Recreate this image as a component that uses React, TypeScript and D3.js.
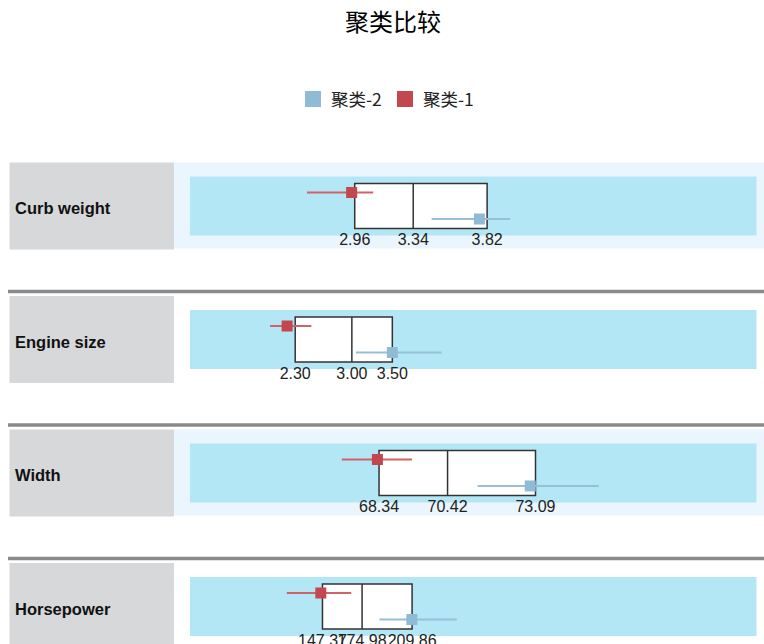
import React from "react";
import * as d3 from "d3";

const title = "聚类比较";
const legendLabels = ["聚类-2", "聚类-1"];
const variables = ["Curb weight", "Engine size", "Width", "Horsepower"];
const domainMin = [1.89, 1.0, 62.6, 55];
const domainMax = [5.57, 8.0, 79.8, 450];
const boxLow = [2.96, 2.3, 68.34, 147.37];
const boxMid = [3.34, 3.0, 70.42, 174.98];
const boxHigh = [3.82, 3.5, 73.09, 209.86];
const cluster1Mean = [2.94, 2.2, 68.29, 146.2];
const cluster1Lo = [2.65, 1.99, 67.21, 122.5];
const cluster1Hi = [3.08, 2.5, 69.34, 167.4];
const cluster2Mean = [3.77, 3.5, 72.93, 209.7];
const cluster2Lo = [3.46, 3.05, 71.33, 187.1];
const cluster2Hi = [3.97, 4.11, 75.01, 241.1];

const W = 764;
const H = 644;
const RED = "#c2474f";
const RED_LINE = "#cf626a";
const BLUE = "#8fbcd4";
const BLUE_LINE = "#97c0d8";
const SHADE = "#eaf5fd";
const BAND = "#b4e7f5";
const GRAY = "#d7d8da";

export default function App() {
  const panelY = d3.scaleLinear().domain([0, 1]).range([162.5, 296]);
  const fmt = d3.format(".2f");
  const sq = 11;
  return (
    <svg
      width={W}
      height={H}
      style={{ position: "absolute", left: 0, top: 0, background: "#fff" }}
      fontFamily="'Liberation Sans', Arial, sans-serif"
    >
      <text
        x={393}
        y={31}
        textAnchor="middle"
        fontSize={24}
        fontFamily="'Noto Sans CJK SC', sans-serif"
        fill="#000"
      >
        {title}
      </text>
      {/* legend */}
      <rect x={305} y={91} width={16} height={16} fill={BLUE} />
      <text x={331} y={106} fontSize={17.5} fontFamily="'Noto Sans CJK SC', sans-serif" fill="#222">
        {legendLabels[0]}
      </text>
      <rect x={397} y={91} width={16} height={16} fill={RED} />
      <text x={423} y={106} fontSize={17.5} fontFamily="'Noto Sans CJK SC', sans-serif" fill="#222">
        {legendLabels[1]}
      </text>

      {variables.map((v, i) => {
        const T = panelY(i);
        const x = d3.scaleLinear().domain([domainMin[i], domainMax[i]]).range([190, 756.5]);
        const shaded = i % 2 === 0;
        const boxTop = T + 21;
        const boxBot = T + 66;
        const redY = T + 30;
        const blueY = T + 56.5;
        return (
          <g key={v}>
            {i > 0 && (
              <line x1={8} x2={W} y1={T - 4.5} y2={T - 4.5} stroke="#8a8a8a" strokeWidth={3.5} />
            )}
            {shaded && <rect x={174} y={T} width={W - 174} height={86} fill={SHADE} />}
            <rect x={9.5} y={T} width={164.5} height={87} fill={GRAY} />
            <text x={15} y={T + 51.5} fontSize={16.5} fontWeight="bold" fill="#111">
              {v}
            </text>
            <rect x={190} y={T + 14} width={566.5} height={59} fill={BAND} />
            <rect
              x={x(boxLow[i])}
              y={boxTop}
              width={x(boxHigh[i]) - x(boxLow[i])}
              height={boxBot - boxTop}
              fill="#fff"
              stroke="#333"
              strokeWidth={1.5}
            />
            <line x1={x(boxMid[i])} x2={x(boxMid[i])} y1={boxTop} y2={boxBot} stroke="#333" strokeWidth={1.5} />
            <line x1={x(cluster1Lo[i])} x2={x(cluster1Hi[i])} y1={redY} y2={redY} stroke={RED_LINE} strokeWidth={2} />
            <rect x={x(cluster1Mean[i]) - sq / 2} y={redY - sq / 2} width={sq} height={sq} fill={RED} />
            <line x1={x(cluster2Lo[i])} x2={x(cluster2Hi[i])} y1={blueY} y2={blueY} stroke={BLUE_LINE} strokeWidth={2} />
            <rect x={x(cluster2Mean[i]) - sq / 2} y={blueY - sq / 2} width={sq} height={sq} fill={BLUE} />
            {[boxLow[i], boxMid[i], boxHigh[i]].map((val, k) => (
              <text key={k} x={x(val)} y={T + 82.5} textAnchor="middle" fontSize={16} fill="#222">
                {fmt(val)}
              </text>
            ))}
          </g>
        );
      })}
    </svg>
  );
}
